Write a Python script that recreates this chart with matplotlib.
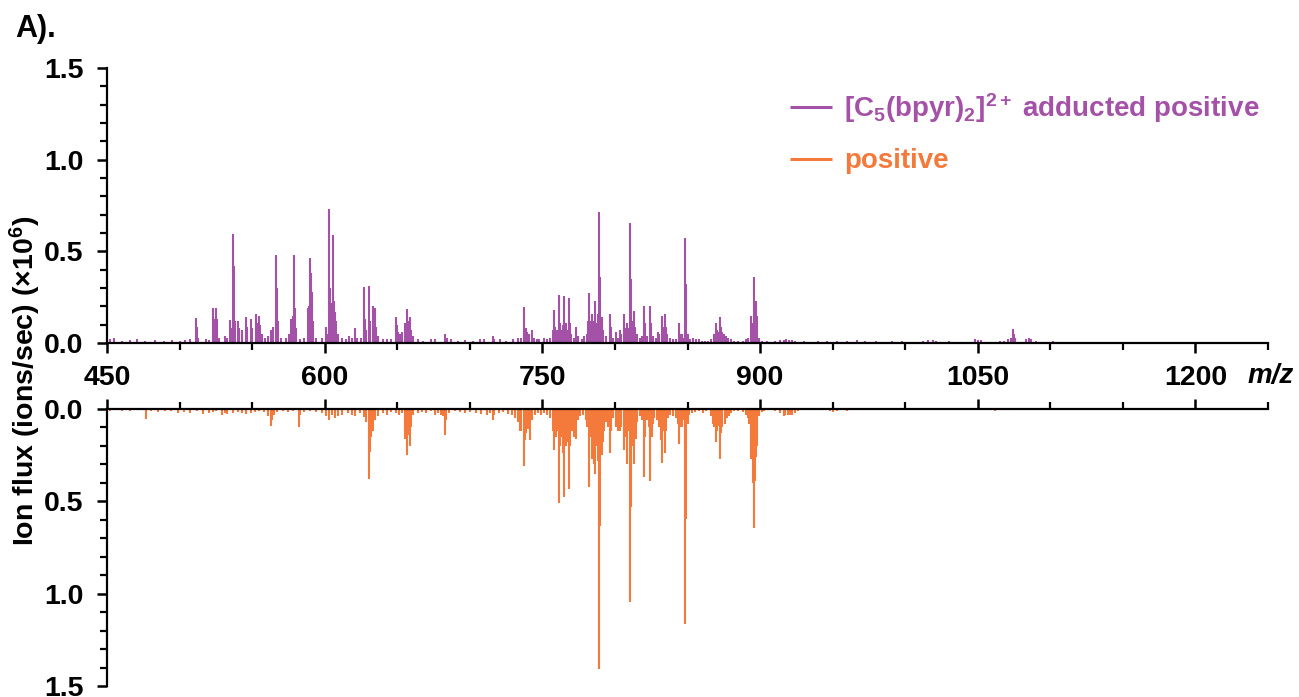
import matplotlib
matplotlib.use("Agg")
import matplotlib.pyplot as plt
from matplotlib.ticker import MultipleLocator

plt.rcParams['font.family'] = ['Liberation Sans', 'DejaVu Sans']
plt.rcParams['font.weight'] = 'bold'
plt.rcParams['mathtext.fontset'] = 'custom'
plt.rcParams['mathtext.rm'] = 'Liberation Sans:bold'
plt.rcParams['mathtext.bf'] = 'Liberation Sans:bold'
plt.rcParams['mathtext.it'] = 'Liberation Sans:bold:italic'
plt.rcParams['mathtext.default'] = 'rm'

# adducted positive spectrum (m/z, ions/sec x1e6)
adduct_mz = [452, 455, 460, 466, 471, 476, 483, 489, 495, 500, 504, 507,
             511, 512, 513, 518, 520, 522.8, 523.5, 524.9, 525.6, 527, 531, 533,
             534.8, 535.5, 537, 537.7, 538.4, 540.5, 541.2, 543, 545.6, 546.3,
             549.2, 550, 552.5, 553.2, 554.5, 555.2, 557, 559, 561, 563, 564.5,
             566.5, 567.2, 568, 570, 573, 575.5, 577, 578, 579, 579.7, 580.5,
             583, 586, 588.5, 589.3, 590, 590.7, 591.5, 592.2, 594, 598, 601,
             602, 603, 603.7, 604.4, 605.5, 606.2, 607, 608, 609.5, 612, 615,
             617, 619, 621, 622, 625, 627, 627.7, 628.5, 630.8, 631.5, 633,
             633.7, 635, 635.7, 637, 640, 643, 646, 649, 649.7, 650.5, 652,
             653.5, 655, 655.7, 657, 657.7, 659, 659.7, 661, 664, 668, 673, 676,
             683, 684, 687, 692, 697, 702, 707, 710, 716, 717, 721, 725, 730,
             733, 735, 737, 737.7, 738.5, 739.5, 741, 743, 744, 746, 748, 751,
             753, 755, 757, 758.3, 759, 760, 761.3, 762, 763, 764, 765.2, 766,
             767, 768.2, 769, 770, 772, 773.5, 774.5, 777, 779, 780.5, 781.5,
             782.4, 783, 784.5, 785.5, 786.3, 787, 788.4, 789.3, 790, 791, 792,
             794, 796.4, 797.2, 799, 800.5, 802, 803.5, 804.5, 806.3, 807, 808,
             809, 810.4, 811, 811.7, 813.4, 814, 815, 817, 818.5, 820.3, 821,
             822, 824.4, 825, 826.5, 828, 829.5, 830.5, 832.5, 833.3, 834.3,
             835, 836, 838, 840, 842, 844.4, 845.2, 846, 847, 848.6, 849.3, 850,
             852, 854, 856, 858, 860, 862, 864, 866, 868, 869.4, 870.2, 871,
             872.5, 873.2, 874, 875, 876.5, 878, 880, 882, 885, 888, 890, 892,
             893.6, 894.4, 895.9, 896.5, 897.3, 898, 899, 901, 905, 910, 914,
             916.6, 918, 920, 922, 924, 930, 935, 940, 946, 953, 960, 967, 972,
             980, 985, 991, 998, 1005, 1012, 1016, 1019, 1021, 1030, 1041, 1048,
             1050, 1052, 1060, 1065, 1068, 1071, 1073, 1074, 1075, 1076, 1083,
             1085, 1086.5, 1090, 1102, 1104, 1150, 1217]
adduct_int = [0.02, 0.03, 0.01, 0.015, 0.02, 0.01, 0.015, 0.01, 0.015, 0.01, 0.015, 0.02,
              0.138, 0.09, 0.03, 0.02, 0.015, 0.19, 0.13, 0.19, 0.13, 0.03, 0.04, 0.03,
              0.125, 0.08, 0.595, 0.42, 0.12, 0.12, 0.08, 0.07, 0.14, 0.09,
              0.13, 0.08, 0.16, 0.11, 0.15, 0.1, 0.05, 0.03, 0.04, 0.07, 0.09,
              0.48, 0.3, 0.12, 0.03, 0.03, 0.05, 0.13, 0.15, 0.48, 0.19, 0.08,
              0.02, 0.03, 0.19, 0.2, 0.463, 0.38, 0.28, 0.12, 0.03, 0.03, 0.09,
              0.05, 0.732, 0.3, 0.22, 0.59, 0.23, 0.17, 0.12, 0.05, 0.03, 0.02,
              0.04, 0.03, 0.08, 0.03, 0.03, 0.307, 0.13, 0.07, 0.31, 0.12, 0.2,
              0.12, 0.19, 0.09, 0.04, 0.02, 0.02, 0.02, 0.14, 0.1, 0.06, 0.05,
              0.06, 0.11, 0.07, 0.185, 0.12, 0.14, 0.07, 0.04, 0.02, 0.01, 0.02, 0.02,
              0.05, 0.03, 0.02, 0.01, 0.015, 0.01, 0.02, 0.02, 0.04, 0.02, 0.02, 0.01, 0.02,
              0.03, 0.025, 0.195, 0.08, 0.08, 0.06, 0.05, 0.07, 0.03, 0.02, 0.02, 0.03,
              0.02, 0.03, 0.07, 0.18, 0.09, 0.07, 0.26, 0.11, 0.07, 0.1, 0.255, 0.11,
              0.07, 0.245, 0.11, 0.05, 0.03, 0.09, 0.04, 0.02, 0.04, 0.05, 0.12,
              0.275, 0.12, 0.16, 0.12, 0.23, 0.11, 0.16, 0.714, 0.36, 0.14, 0.07,
              0.04, 0.16, 0.09, 0.03, 0.06, 0.03, 0.07, 0.05, 0.16, 0.08, 0.11,
              0.08, 0.657, 0.35, 0.12, 0.175, 0.09, 0.05, 0.03, 0.04, 0.2, 0.11,
              0.04, 0.2, 0.11, 0.04, 0.03, 0.06, 0.05, 0.15, 0.09, 0.16,
              0.09, 0.05, 0.03, 0.02, 0.02, 0.11, 0.05, 0.05, 0.03, 0.575, 0.32, 0.05,
              0.02, 0.03, 0.02, 0.02, 0.01, 0.01, 0.01, 0.02, 0.05, 0.11, 0.07, 0.06,
              0.14, 0.09, 0.06, 0.05, 0.04, 0.03, 0.02, 0.01, 0.01, 0.01, 0.02, 0.03,
              0.15, 0.11, 0.36, 0.23, 0.23, 0.15, 0.03, 0.01, 0.01, 0.01, 0.015,
              0.015, 0.02, 0.015, 0.015, 0.01, 0.01, 0.005, 0.01, 0.01, 0.01, 0.01, 0.015, 0.01,
              0.01, 0.005, 0.01, 0.01, 0.005, 0.01, 0.015, 0.015, 0.01, 0.01, 0.005, 0.02,
              0.015, 0.015, 0.005, 0.01, 0.01, 0.02, 0.03, 0.075, 0.05, 0.03, 0.02,
              0.03, 0.02, 0.01, 0.01, 0.005, 0.005, 0.005]

# positive spectrum (m/z, ions/sec x1e6)
pos_mz = [452, 455, 460, 466, 471, 476.7, 480, 485, 490, 494, 499, 503, 507, 512,
          516, 520, 523, 525, 529, 531, 533, 537, 540, 543, 546, 549, 552, 555,
          558, 561, 562.8, 563.5, 565, 567, 571, 575, 578, 582, 583, 586, 590,
          594, 598, 601, 603, 605, 607, 609, 612, 616, 619, 621, 624, 627,
          628.5, 630.8, 631.5, 632.2, 633.5, 635, 637, 640, 643, 646, 649, 651,
          653, 655, 656, 657, 657.7, 659, 659.7, 661, 664, 667, 670, 673, 676,
          678, 680, 681.5, 683, 683.7, 686, 690, 693, 697, 700, 704, 708, 712,
          714, 716, 717, 720, 723, 726, 729, 731, 733, 734.5, 735.5, 737, 738,
          739, 740, 741.5, 743, 745, 747, 749, 751, 753, 755, 757, 758.3, 759.2,
          760, 761.3, 762.2, 763.5, 764.3, 765.2, 766, 767, 768.2, 769, 770.5,
          771.5, 773.5, 774.5, 776, 778, 780, 781, 782.4, 783.2, 784.5, 785.5,
          786.3, 787, 788.3, 789.3, 790, 790.8, 791.5, 792.5, 794, 795.5, 796.4,
          797.3, 799, 801, 802, 803.5, 804.5, 806.3, 807, 808, 809, 810.4, 811,
          811.8, 812.5, 813.4, 814.2, 815, 817, 818.5, 820.3, 821, 822, 823.5,
          824.4, 825.2, 826, 827, 829, 830.5, 831.5, 832.5, 833.3, 834.3, 835,
          836.5, 838, 840, 842, 843.5, 844.4, 845.3, 846.5, 847.5, 848.6, 849.3,
          850, 851, 853, 855, 858, 861, 863, 866, 867.5, 868.5, 869.4, 870.3,
          871, 872.5, 873.2, 874, 875.5, 877, 878.5, 880, 882, 885, 888, 890,
          891.5, 892.5, 893.6, 894.5, 895.3, 895.9, 896.5, 897.3, 898, 899, 901,
          903, 906, 910, 914, 916.6, 917.5, 919, 920.5, 922, 924, 926, 930, 936,
          948, 950, 953, 960, 968, 975, 1000, 1040, 1062, 1080, 1120]
pos_int = [0.01, 0.008, 0.012, 0.01, 0.008, 0.054, 0.01, 0.015, 0.01, 0.012, 0.02, 0.015, 0.02, 0.01,
           0.025, 0.02, 0.015, 0.01, 0.03, 0.02, 0.025, 0.02, 0.015, 0.02, 0.025, 0.02, 0.015, 0.01,
           0.015, 0.04, 0.09, 0.06, 0.03, 0.015, 0.01, 0.015, 0.01, 0.1, 0.03, 0.015, 0.01,
           0.015, 0.02, 0.04, 0.06, 0.035, 0.05, 0.04, 0.03, 0.02, 0.03, 0.04, 0.02, 0.045,
           0.07, 0.38, 0.235, 0.15, 0.12, 0.06, 0.04, 0.02, 0.03, 0.015, 0.02, 0.03,
           0.02, 0.16, 0.12, 0.25, 0.14, 0.2, 0.1, 0.03, 0.02, 0.015, 0.02, 0.01, 0.03,
           0.02, 0.03, 0.04, 0.14, 0.06, 0.02, 0.01, 0.015, 0.02, 0.015, 0.02, 0.025, 0.03,
           0.02, 0.06, 0.03, 0.02, 0.015, 0.025, 0.03, 0.05, 0.07, 0.12, 0.12, 0.31, 0.17,
           0.13, 0.11, 0.17, 0.06, 0.03, 0.02, 0.03, 0.02, 0.03, 0.05, 0.12, 0.22, 0.15,
           0.12, 0.51, 0.2, 0.15, 0.24, 0.475, 0.2, 0.18, 0.435, 0.2, 0.12,
           0.15, 0.16, 0.06, 0.04, 0.03, 0.06, 0.1, 0.42, 0.15, 0.27, 0.3,
           0.35, 0.2, 0.28, 1.41, 0.635, 0.25, 0.18, 0.12, 0.07, 0.1, 0.24,
           0.12, 0.05, 0.1, 0.12, 0.12, 0.1, 0.22, 0.15, 0.3, 0.12, 1.047, 0.53,
           0.2, 0.15, 0.3, 0.16, 0.07, 0.04, 0.06, 0.37, 0.15, 0.06, 0.1,
           0.39, 0.15, 0.08, 0.05, 0.06, 0.1, 0.17, 0.29, 0.12, 0.24, 0.12,
           0.05, 0.03, 0.04, 0.05, 0.08, 0.19, 0.1, 0.1, 0.06, 1.165, 0.595,
           0.08, 0.03, 0.02, 0.015, 0.01, 0.02, 0.01, 0.04, 0.08, 0.1, 0.18, 0.12,
           0.09, 0.27, 0.13, 0.1, 0.08, 0.05, 0.04, 0.02, 0.01, 0.01, 0.015, 0.03,
           0.05, 0.08, 0.27, 0.2, 0.4, 0.645, 0.39, 0.26, 0.2, 0.04, 0.015,
           0.01, 0.005, 0.01, 0.02, 0.04, 0.03, 0.035, 0.03, 0.03, 0.02, 0.01, 0.005, 0.005,
           0.01, 0.015, 0.01, 0.01, 0.005, 0.005, 0.005, 0.005, 0.01, 0.003, 0.003]

purple = '#a451a8'
orange = '#f47a3b'

fig = plt.figure(figsize=(12.99, 6.97), dpi=100)
ax1 = fig.add_axes([107/1299, 1-343/697, (1268-107)/1299, (343-68)/697])
ax2 = fig.add_axes([107/1299, 1-686/697, (1268-107)/1299, (686-409)/697])

ax1.vlines(adduct_mz, 0, adduct_int, color=purple, lw=1.5,
           label=r'[C$_5$(bpyr)$_2$]$^{2+}$ adducted positive')
ax2.vlines(pos_mz, 0, pos_int, color=orange, lw=1.5, label='positive')

for ax in (ax1, ax2):
    ax.set_xlim(450, 1250)
    ax.set_ylim(0, 1.5)
    ax.xaxis.set_major_locator(MultipleLocator(150))
    ax.xaxis.set_minor_locator(MultipleLocator(50))
    ax.yaxis.set_major_locator(MultipleLocator(0.5))
    ax.yaxis.set_minor_locator(MultipleLocator(0.1))
    ax.yaxis.set_major_formatter(plt.FormatStrFormatter('%.1f'))
    ax.spines['right'].set_visible(False)
    for s in ax.spines.values():
        s.set_linewidth(1.6)
    ax.tick_params(which='major', direction='out', length=7, width=1.8, labelsize=20.5, pad=9)
    ax.tick_params(which='minor', direction='out', length=5, width=1.6)
    ax.tick_params(axis='y', which='major', pad=10)

ax1.spines['top'].set_visible(False)
ax2.spines['bottom'].set_visible(False)
ax2.invert_yaxis()
ax2.xaxis.tick_top()
ax2.tick_params(axis='x', which='both', labeltop=False)
ax2.set_xlim(450, 1250)

fig.text(1271/1299, 1-376/697, 'm/z', style='italic', fontsize=20, ha='center', va='center')
fig.text(25/1299, 1-381/697, 'Ion flux (ions/sec) (×10$^{6}$)', rotation=90,
         fontsize=20.5, ha='center', va='center')
fig.text(15/1299, 1-29/697, 'A).', fontsize=22, ha='left', va='center')

h1, l1 = ax1.get_legend_handles_labels()
h2, l2 = ax2.get_legend_handles_labels()
leg = fig.legend(h1 + h2, l1 + l2, loc='upper left', bbox_to_anchor=(790/1299, 1-91/697),
                 frameon=False, fontsize=20, handlelength=1.5, handletextpad=0.45,
                 labelspacing=0.85, borderpad=0, borderaxespad=0)
for t, c in zip(leg.get_texts(), [purple, orange]):
    t.set_color(c)
for h in leg.legend_handles:
    h.set_linewidth(2.2)

fig.savefig('out.png', dpi=100)
